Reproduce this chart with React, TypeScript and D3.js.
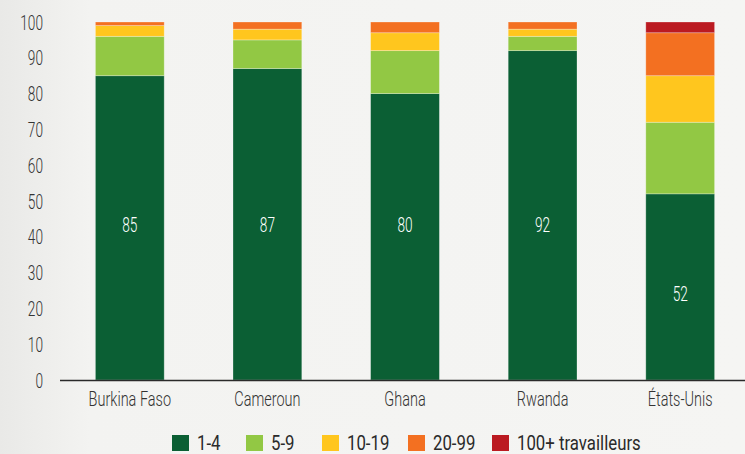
import React from "react";
import * as d3 from "d3";

const categories = ["Burkina Faso", "Cameroun", "Ghana", "Rwanda", "États-Unis"];
const seriesNames = ["1-4", "5-9", "10-19", "20-99", "100+ travailleurs"];
const s1_4 = [85, 87, 80, 92, 52];
const s5_9 = [11, 8, 12, 4, 20];
const s10_19 = [3, 3, 5, 2, 13];
const s20_99 = [1, 2, 3, 2, 12];
const s100 = [0, 0, 0, 0, 3];
// data value (in %) at which each in-bar label is centred
const valueLabelAt = [43.5, 43.5, 43.5, 43.5, 24.2];
const yTicks = [0, 10, 20, 30, 40, 50, 60, 70, 80, 90, 100];
const colors = ["#0b5f34", "#92c844", "#ffc61e", "#f37021", "#bb1a21"];

const W = 745;
const H = 454;
const FONT = "Roboto, 'Noto Sans', sans-serif";
const FS = 21;

export default function App() {
  const series = [s1_4, s5_9, s10_19, s20_99, s100];
  const rows = categories.map((c, i) => {
    const r: any = { cat: c };
    seriesNames.forEach((n, k) => (r[n] = series[k][i]));
    return r;
  });
  const stacked = d3.stack<any>().keys(seriesNames)(rows);

  const x = d3.scaleBand<string>().domain(categories).range([61, 749]).paddingInner(0.5).paddingOuter(0.25);
  const y = d3.scaleLinear().domain([0, 100]).range([380, 22]);

  const legendX = [172, 246, 322, 408, 492];

  return (
    <svg width={W} height={H} style={{ position: "absolute", left: 0, top: 0, display: "block" }}>
      <defs>
        <linearGradient id="bg" x1="0" x2="1" y1="0" y2="0">
          <stop offset="0" stopColor="#e9e9e7" />
          <stop offset="0.12" stopColor="#f3f3f1" />
          <stop offset="1" stopColor="#f5f5f3" />
        </linearGradient>
      </defs>
      <rect x={0} y={0} width={W} height={H} fill="url(#bg)" />
      {yTicks.map((t) => (
        <text
          key={t}
          transform={`translate(43,${y(t) + 7.5}) scale(0.65,1)`}
          textAnchor="end"
          fontFamily={FONT}
          fontWeight={300}
          fontSize={FS}
          fill="#333333"
        >
          {t}
        </text>
      ))}
      {stacked.map((layer, k) =>
        layer.map((d, i) => {
          const h = y(d[0]) - y(d[1]);
          if (h <= 0) return null;
          return (
            <rect
              key={k + "-" + i}
              x={x(categories[i])}
              y={y(d[1])}
              width={x.bandwidth()}
              height={h}
              fill={colors[k]}
              stroke="rgba(255,255,255,0.35)"
              strokeWidth={0.8}
            />
          );
        })
      )}
      {stacked[0].map((d, i) => (
        <text
          key={"v" + i}
          transform={`translate(${(x(categories[i]) as number) + x.bandwidth() / 2},${y(valueLabelAt[i]) + 7.5}) scale(0.65,1)`}
          textAnchor="middle"
          fontFamily={FONT}
          fontWeight={300}
          fontSize={FS}
          fill="#ffffff"
        >
          {d[1] - d[0]}
        </text>
      ))}
      <line x1={60} x2={745} y1={380.5} y2={380.5} stroke="#2a2a2a" strokeWidth={1.5} />
      {categories.map((c) => (
        <text
          key={c}
          transform={`translate(${(x(c) as number) + x.bandwidth() / 2},406) scale(0.69,1)`}
          textAnchor="middle"
          fontFamily={FONT}
          fontWeight={300}
          fontSize={FS}
          fill="#333333"
        >
          {c}
        </text>
      ))}
      {seriesNames.map((n, k) => (
        <g key={n}>
          <rect x={legendX[k]} y={435} width={17} height={16} fill={colors[k]} />
          <text
            transform={`translate(${legendX[k] + 25},449.5) scale(0.84,1)`}
            fontFamily={FONT}
            fontSize={20}
            fill="#2a2a2a"
          >
            {n}
          </text>
        </g>
      ))}
    </svg>
  );
}
